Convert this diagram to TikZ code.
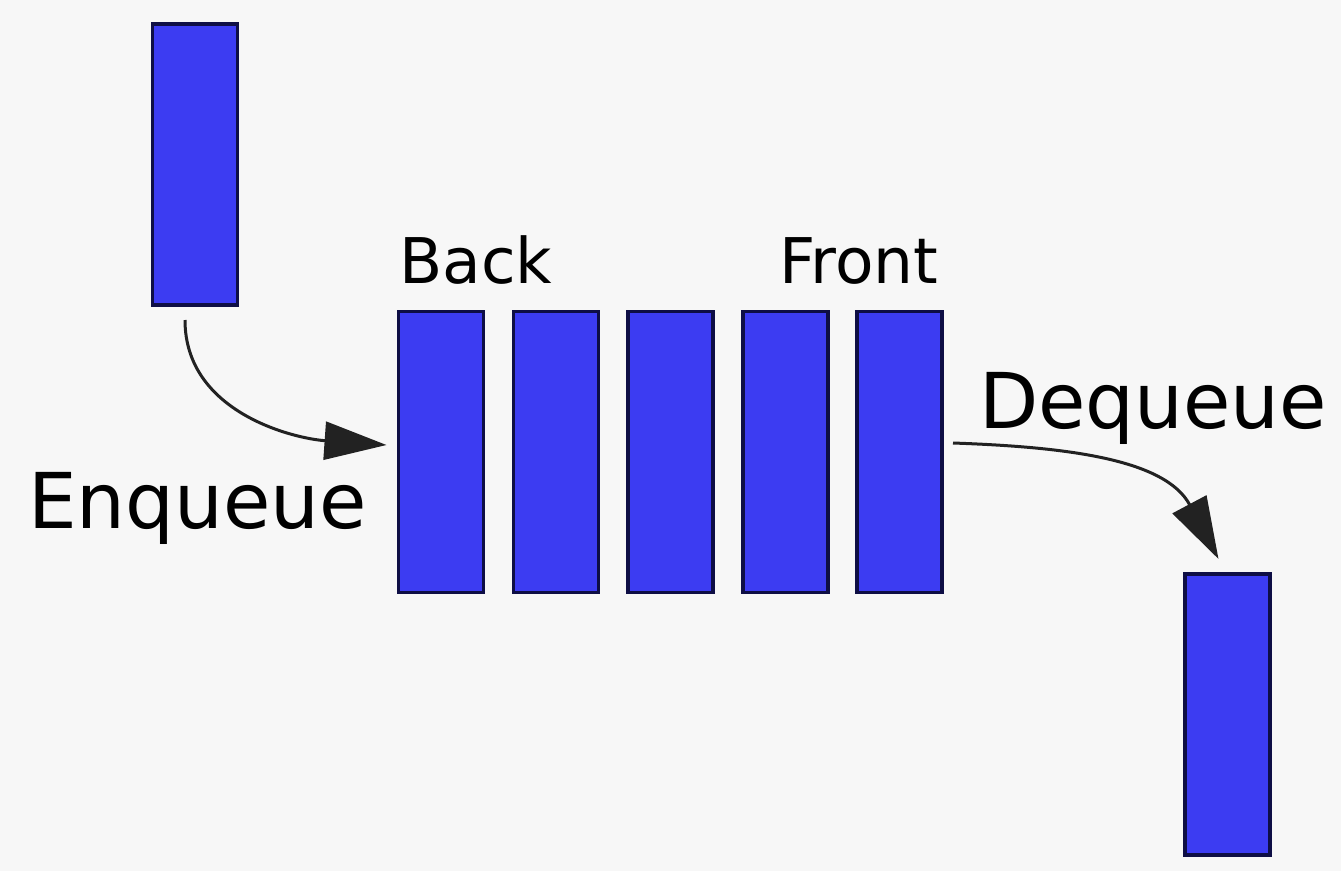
\documentclass[tikz,border=0pt]{standalone}
\usepackage{fontspec}
\setmainfont{DejaVu Sans}
\usetikzlibrary{arrows.meta}
\definecolor{bg}{HTML}{F7F7F7}
\definecolor{itemblue}{HTML}{3C3CF2}
\definecolor{itemedge}{HTML}{0E0E45}
\definecolor{arrowgray}{HTML}{222222}
\tikzset{
  item/.style={draw=itemedge, fill=itemblue, line width=3.5pt, inner sep=0pt, outer sep=0pt,
    minimum width=85pt, minimum height=281pt},
  biglabel/.style={anchor=base west, inner sep=0pt, font=\fontsize{77}{80}\selectfont},
  smalllabel/.style={anchor=base west, inner sep=0pt, font=\fontsize{63}{66}\selectfont},
  flow/.style={draw=arrowgray, line width=3pt, -{Triangle[length=62pt,width=38pt]}}
}
\begin{document}
\begin{tikzpicture}[x=1pt,y=-1pt]
  % canvas
  \fill[bg] (0,0) rectangle (1341,871);
  \useasboundingbox (0,0) rectangle (1341,871);

  % element waiting to be enqueued
  \node[item] (in) at (195,164.5) {};

  % the queue, back to front
  \node[item] (q1) at (441,452) {};
  \node[item] (q2) at (556,452) {};
  \node[item] (q3) at (670.5,452) {};
  \node[item] (q4) at (785.5,452) {};
  \node[item] (q5) at (899.5,452) {};

  % element that has been dequeued
  \node[item] (out) at (1227.5,714.5) {};

  % labels
  \node[smalllabel] (back) at (399,283) {Back};
  \node[smalllabel] (front) at (779,283) {Front};
  \node[biglabel] (enq) at (28,528) {Enqueue};
  \node[biglabel] (deq) at (979,428) {Dequeue};

  % operations (yshift is measured upwards)
  \draw[flow] ([xshift=-10pt,yshift=-15pt]in.south) to[out=-90,in=176] ([xshift=-12pt,yshift=7pt]q1.west);
  \draw[flow] ([xshift=11pt,yshift=9pt]q5.east) to[out=-2,in=118] ([xshift=-9pt,yshift=15pt]out.north);
\end{tikzpicture}
\end{document}
